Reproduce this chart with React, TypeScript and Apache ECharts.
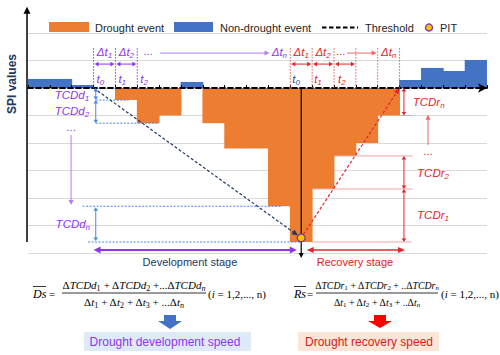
import React, { useEffect, useRef } from "react";
import * as echarts from "echarts";

// ---------------- data ----------------
const periods = ["1", "2", "3", "4", "5", "6", "7", "8", "9", "10", "11", "12", "13", "14", "15", "16", "17", "18", "19", "20", "21"];
const droughtSPI = [null, null, null, null, -0.44, -1.28, -1.0, null, -1.28, -2.2, -2.2, -4.3, -5.6, -3.67, -2.47, -2.0, -1.0, null, null, null, null];
const nonDroughtSPI = [0.33, 0.33, 0.11, null, null, null, null, 0.22, null, null, null, null, null, null, null, null, null, 0.29, 0.73, 0.62, 1.02];
const threshold = 0;
const yMin = -6;
const yMax = 2.9;
const pitPoint = [12.5, -5.45];
const devTimeMarks = [3, 4, 5];
const recTimeMarks = [12, 13, 14, 15, 16, 17];
const devSteps = [0, -0.44, -1.28];
const devLastStep = [-4.3, -5.6];
const recSteps = [-5.6, -3.67, -2.47];
const recLastStep = [-1.0, 0];
const droughtStart = 3;
const droughtEnd = 17;

const SANS = '"Liberation Sans", Arial, sans-serif';
const SERIF = '"Liberation Serif", "Times New Roman", serif';
const C = {
  orange: "#ED7D31",
  blue: "#4472C4",
  purple: "#8E35EF",
  purpleLight: "#B07EF4",
  red: "#E0262E",
  redLight: "#F3A3A3",
  redDot: "#E25A5E",
  navy: "#203864",
  tcdBlue: "#4A86E8",
  grid: "#D9D9D9",
  text: "#262626",
};

type Pt = [number, number];

function seg(a: Pt, b: Pt, stroke: string, lineWidth = 1, lineDash?: number[]) {
  const style: any = { stroke, lineWidth, fill: null };
  if (lineDash) style.lineDash = lineDash;
  return { type: "line", z: 100, silent: true, shape: { x1: a[0], y1: a[1], x2: b[0], y2: b[1] }, style };
}
function tri(tip: Pt, from: Pt, fill: string, len = 5, half = 2.5) {
  const dx = tip[0] - from[0], dy = tip[1] - from[1];
  const L = Math.hypot(dx, dy) || 1;
  const ux = dx / L, uy = dy / L;
  const bx = tip[0] - ux * len, by = tip[1] - uy * len;
  return {
    type: "polygon", z: 101, silent: true,
    shape: { points: [[tip[0], tip[1]], [bx - uy * half, by + ux * half], [bx + uy * half, by - ux * half]] },
    style: { fill },
  };
}
function arrow(a: Pt, b: Pt, color: string, lw: number, o: { start?: boolean; end?: boolean; dash?: number[]; len?: number; half?: number } = {}) {
  const len = o.len ?? 5, half = o.half ?? 2.5;
  const dx = b[0] - a[0], dy = b[1] - a[1];
  const L = Math.hypot(dx, dy) || 1;
  const ux = dx / L, uy = dy / L;
  const end = o.end !== false;
  const a2: Pt = o.start ? [a[0] + ux * len * 0.8, a[1] + uy * len * 0.8] : a;
  const b2: Pt = end ? [b[0] - ux * len * 0.8, b[1] - uy * len * 0.8] : b;
  const out: any[] = [seg(a2, b2, color, lw, o.dash)];
  if (o.start) out.push(tri(a, b, color, len, half));
  if (end) out.push(tri(b, a, color, len, half));
  return out;
}
function rich(color: string, size: number, family: string, subItalic = true) {
  const lh = Math.round(size + 3);
  const ss = Math.round(size * 0.7);
  const base = { fill: color, fontFamily: family, fontSize: size, lineHeight: lh };
  const sub = { fill: color, fontFamily: family, fontSize: ss, lineHeight: ss, padding: [lh - ss, 0, 0, 0] };
  return {
    i: { ...base, fontStyle: "italic" },
    n: { ...base, fontStyle: "normal" },
    s: { ...sub, fontStyle: subItalic ? "italic" : "normal" },
    si: { ...sub, fontStyle: "italic" },
  };
}
function rtext(x: number, y: number, text: string, r: any, align = "center") {
  return { type: "text", x, y, z: 100, silent: true, style: { text, rich: r, align, verticalAlign: "middle" } };
}
function ptext(x: number, y: number, text: string, size: number, fill: string, align = "left", extra: any = {}) {
  return {
    type: "text", x, y, z: 100, silent: true,
    style: { text, fill, fontSize: size, fontFamily: SANS, align, verticalAlign: "middle", ...extra },
  };
}

export default function App() {
  const ref = useRef<HTMLDivElement>(null);
  useEffect(() => {
    const chart = echarts.init(ref.current!, null, { renderer: "svg" });
    const option: any = {
      animation: false,
      grid: { left: 28, right: 13, top: 8.25, bottom: 102, containLabel: false },
      xAxis: [
        {
          type: "category", data: periods, boundaryGap: true, z: 10,
          axisLine: { show: true, onZero: true, symbol: ["none", "arrow"], symbolSize: [7, 9], lineStyle: { color: "#000", width: 1.8, type: [5, 3] } },
          axisTick: { show: true, inside: true, length: 3, lineStyle: { color: "#000", width: 1, type: "solid" } },
          axisLabel: { show: false },
          splitLine: { show: false },
        },
        { type: "value", min: 0, max: 21, show: false, splitLine: { show: false } },
      ],
      yAxis: {
        type: "value", min: yMin, max: yMax, interval: 1,
        axisLine: { show: false }, axisTick: { show: false }, axisLabel: { show: false },
        splitLine: { show: true, showMaxLine: false, lineStyle: { color: C.grid, width: 1.2 } },
      },
      series: [
        { name: "Drought event", type: "bar", data: droughtSPI, barWidth: "104%", barGap: "-100%", silent: true, itemStyle: { color: C.orange } },
        { name: "Non-drought event", type: "bar", data: nonDroughtSPI, barWidth: "104%", barGap: "-100%", silent: true, itemStyle: { color: C.blue } },
      ],
    };
    chart.setOption(option);

    const X = (b: number) => chart.convertToPixel({ xAxisIndex: 1 } as any, b) as unknown as number;
    const Y = (v: number) => chart.convertToPixel({ yAxisIndex: 0 } as any, v) as unknown as number;
    const els: any[] = [];
    const y0 = Y(threshold);

    // y axis with arrow
    const xa = X(0) - 1;
    els.push(seg([xa, Y(-5.6)], [xa, Y(yMax) + 3], "#000", 1.5));
    els.push(tri([xa, Y(yMax) - 1.5], [xa, Y(0)], "#000", 7, 3.5));
    const yl: any = ptext(12, 84, "SPI values", 12, C.navy, "center", { fontWeight: "bold" });
    yl.rotation = Math.PI / 2;
    els.push(yl);

    // legend
    els.push({ type: "rect", z: 100, silent: true, shape: { x: 49, y: 22, width: 40, height: 10 }, style: { fill: C.orange } });
    els.push(ptext(95, 27.5, "Drought event", 11, C.text));
    els.push({ type: "rect", z: 100, silent: true, shape: { x: 174, y: 22, width: 39, height: 10 }, style: { fill: C.blue } });
    els.push(ptext(220, 27.5, "Non-drought event", 11, C.text));
    els.push(seg([322, 27.5], [358, 27.5], "#000", 2, [4.5, 2.5]));
    els.push(ptext(365, 27.5, "Threshold", 11, C.text));
    els.push({ type: "circle", z: 100, silent: true, shape: { cx: 429, cy: 27.5, r: 3.5 }, style: { fill: "#FFC000", stroke: "#7030A0", lineWidth: 1.2 } });
    els.push(ptext(440, 27.5, "PIT", 11, C.text));

    const topY = Y(1.45), dtY = Y(0.87), dtLab = Y(1.3), longY = Y(1.27), tLab = Y(0.32);
    const rP = rich(C.purple, 11.5, SANS);
    const rR = rich(C.red, 11.5, SANS);
    const rNavy = rich("#2F4F8F", 11.5, SANS);

    // development time marks
    devTimeMarks.forEach((b) => els.push(seg([X(b), topY], [X(b), y0], C.purple, 1, [1.5, 1.5])));
    for (let k = 0; k < devTimeMarks.length - 1; k++) {
      els.push(...arrow([X(devTimeMarks[k]) + 1, dtY], [X(devTimeMarks[k + 1]) - 1, dtY], C.purple, 1, { start: true, len: 4, half: 2.3 }));
      els.push(rtext(X(devTimeMarks[k] + 0.5), dtLab, `{i|Δt}{s|${k + 1}}`, rP));
    }
    devTimeMarks.forEach((b, k) => els.push(rtext(X(b) + 3, tLab, `{i|t}{s|${k}}`, rP, "left")));
    els.push(rtext(X(5.5), dtLab - 1, "{n|...}", rP));
    els.push(...arrow([X(6.05), longY], [X(11.05), longY], C.purpleLight, 1, { len: 5, half: 2.5 }));
    els.push(rtext(X(11.15), dtLab, "{i|Δt}{si|n}", rP, "left"));

    // recovery time marks
    recTimeMarks.forEach((b) => els.push(seg([X(b), topY], [X(b), y0], C.redDot, 1, [1.5, 1.5])));
    for (let k = 0; k < 3; k++) {
      els.push(...arrow([X(recTimeMarks[k]) + 1, dtY], [X(recTimeMarks[k + 1]) - 1, dtY], C.red, 1, { start: true, len: 4, half: 2.3 }));
    }
    els.push(rtext(X(12.5), dtLab, "{i|Δt}{s|1}", rR));
    els.push(rtext(X(13.5), dtLab, "{i|Δt}{s|2}", rR));
    els.push(rtext(X(14.3), dtLab - 1, "{n|...}", rR));
    els.push(...arrow([X(14.6), longY], [X(15.95), longY], "#EE6A6A", 1, { len: 5, half: 2.5 }));
    els.push(rtext(X(16.5), dtLab, "{i|Δt}{si|n}", rR));
    els.push(rtext(X(12) + 2, tLab, "{i|t}{s|0}", rNavy, "left"));
    els.push(rtext(X(13) + 2, tLab, "{i|t}{s|1}", rR, "left"));
    els.push(rtext(X(14) + 4, tLab, "{i|t}{s|2}", rR, "left"));

    // TCDd (development) steps
    const xd = X(droughtStart + 0.1);
    for (let k = 0; k < devSteps.length - 1; k++) {
      els.push(...arrow([xd, Y(devSteps[k])], [xd, Y(devSteps[k + 1])], C.tcdBlue, 1, { start: true, len: 3.5, half: 2.3 }));
    }
    els.push(...arrow([xd, Y(devLastStep[0]) + 1], [xd, Y(devLastStep[1]) - 1], C.tcdBlue, 1, { start: true, len: 3.5, half: 2.3 }));
    els.push(seg([xd, Y(devSteps[1])], [X(4.6), Y(devSteps[1])], C.tcdBlue, 1, [2, 1.5]));
    els.push(seg([xd, Y(devSteps[2])], [X(6), Y(devSteps[2])], C.tcdBlue, 1, [2, 1.5]));
    els.push(seg([X(2.5), Y(devLastStep[0])], [X(11.6), Y(devLastStep[0])], C.tcdBlue, 1, [2, 1.5]));
    els.push(seg([X(2.75), Y(devLastStep[1])], [X(12.45), Y(devLastStep[1])], C.tcdBlue, 1, [2, 1.5]));
    els.push(rtext(X(2.8), Y(-0.27), "{i|TCDd}{s|1}", rP, "right"));
    els.push(rtext(X(2.8), Y(-0.83), "{i|TCDd}{s|2}", rP, "right"));
    els.push(rtext(X(2.84), Y(-4.95), "{i|TCDd}{si|n}", rP, "right"));
    els.push(rtext(X(1.97), Y(-1.42), "{n|...}", rP));
    els.push(...arrow([X(1.97), Y(-1.71)], [X(1.97), Y(-4.25)], C.purpleLight, 1, { len: 5, half: 2.5 }));

    // TCDr (recovery) steps
    const xr = X(droughtEnd + 0.2);
    els.push(...arrow([xr, Y(recLastStep[1])], [xr, Y(recLastStep[0])], C.red, 1, { start: true, len: 3.5, half: 2.3 }));
    els.push(...arrow([xr, Y(recSteps[2])], [xr, Y(recSteps[1])], C.red, 1, { start: true, len: 3.5, half: 2.3 }));
    els.push(...arrow([xr, Y(recSteps[1])], [xr, Y(recSteps[0])], C.red, 1, { start: true, len: 3.5, half: 2.3 }));
    els.push(seg([X(17), Y(recLastStep[0])], [X(17.6), Y(recLastStep[0])], C.redLight, 1));
    els.push(seg([X(14), Y(recSteps[2])], [X(17.6), Y(recSteps[2])], C.redLight, 1));
    els.push(seg([X(13), Y(recSteps[1])], [X(17.6), Y(recSteps[1])], C.redLight, 1));
    els.push(seg([X(13), Y(recSteps[0])], [X(17.55), Y(recSteps[0])], C.redLight, 1));
    els.push(...arrow([X(18.3), Y(-2.07)], [X(18.3), Y(-0.97)], "#EE6A6A", 1, { len: 5, half: 2.5 }));
    els.push(rtext(X(18.3), Y(-2.3), "{n|...}", rR));
    els.push(rtext(X(17.6), Y(-0.5), "{i|TCDr}{si|n}", rR, "left"));
    els.push(rtext(X(17.8), Y(-3.08), "{i|TCDr}{s|2}", rR, "left"));
    els.push(rtext(X(17.8), Y(-4.6), "{i|TCDr}{s|1}", rR, "left"));

    // development / recovery trend lines and PIT
    const pit: Pt = [X(pitPoint[0]), Y(pitPoint[1])];
    const ds: Pt = [X(droughtStart), y0];
    const de: Pt = [X(droughtEnd), y0];
    {
      const dx = pit[0] - ds[0], dy = pit[1] - ds[1], L = Math.hypot(dx, dy);
      els.push(...arrow(ds, [pit[0] - (dx / L) * 4, pit[1] - (dy / L) * 4], C.navy, 1.2, { dash: [3, 2], len: 6, half: 2.8 }));
      const ex = de[0] - pit[0], ey = de[1] - pit[1], M = Math.hypot(ex, ey);
      els.push(...arrow([pit[0] + (ex / M) * 4, pit[1] + (ey / M) * 4], de, C.red, 1.2, { dash: [3, 2], len: 6, half: 2.8 }));
    }
    els.push(...arrow([pit[0], y0], [pit[0], Y(-6.18)], "#000", 1.2, { len: 5, half: 2.5 }));
    els.push({ type: "circle", z: 103, silent: true, shape: { cx: pit[0], cy: pit[1], r: 4 }, style: { fill: "#FFC000", stroke: "#7030A0", lineWidth: 1.2 } });

    // stage arrows
    const yS = Y(-5.89);
    els.push(...arrow([X(droughtStart), yS], [X(12.3), yS], C.purple, 2, { start: true, len: 7, half: 3.5 }));
    els.push(...arrow([X(12.75), yS], [X(17.25), yS], C.red, 1.5, { start: true, len: 7, half: 3 }));
    els.push(ptext(X(7.41), Y(-6.33), "Development stage", 11, C.navy, "center"));
    els.push(ptext(X(14.96), Y(-6.33), "Recovery stage", 11, "#E02020", "center"));

    // formulas
    const rF = rich("#000", 11, SERIF, false);
    const rF2 = rich("#000", 9.8, SERIF, false);
    els.push(rtext(33, 294, "{i|Ds}", rich("#000", 12, SERIF), "left"));
    els.push(seg([33, 286.5], [46, 286.5], "#000", 0.8));
    els.push(rtext(49, 293.5, "{n|=}", rF, "left"));
    els.push(rtext(134, 285, "{n|Δ}{i|TCDd}{s|1}{n| + Δ}{i|TCDd}{s|2}{n| +...Δ}{i|TCDd}{si|n}", rF));
    els.push(seg([62, 293], [206, 293], "#000", 0.8));
    els.push(rtext(134, 302, "{n|Δ}{i|t}{s|1}{n| + Δ}{i|t}{s|2}{n| + Δ}{i|t}{s|3}{n| + ...Δ}{i|t}{si|n}", rF));
    els.push(rtext(208, 294, "{n|(}{i|i}{n| = 1,2,..., n)}", rF, "left"));

    els.push(rtext(294, 294, "{i|Rs}", rich("#000", 12, SERIF), "left"));
    els.push(seg([294, 286.5], [306, 286.5], "#000", 0.8));
    els.push(rtext(307, 293.5, "{n|=}", rF, "left"));
    els.push(rtext(377, 285, "{n|Δ}{i|TCDr}{s|1}{n| + Δ}{i|TCDr}{s|2}{n| + ..Δ}{i|TCDr}{si|n}", rF2));
    els.push(seg([316, 293], [438, 293], "#000", 0.8));
    els.push(rtext(377, 302, "{n|Δ}{i|t}{s|1}{n| + Δ}{i|t}{s|2}{n| + Δ}{i|t}{s|3}{n| + ..Δ}{i|t}{si|n}", rF2));
    els.push(rtext(441, 294, "{n|(}{i|i}{n| = 1,2,..., n)}", rF, "left"));

    // block arrows and result boxes
    els.push({ type: "polygon", z: 100, silent: true, shape: { points: [[164, 315], [176, 315], [176, 321], [182, 321], [170, 329], [158, 321], [164, 321]] }, style: { fill: C.blue } });
    els.push({ type: "polygon", z: 100, silent: true, shape: { points: [[374, 315], [386, 315], [386, 321], [392, 321], [380, 328], [368, 321], [374, 321]] }, style: { fill: "#FF0000" } });
    els.push({ type: "rect", z: 99, silent: true, shape: { x: 84, y: 332, width: 167, height: 19 }, style: { fill: "#DEEBF7" } });
    els.push(ptext(165, 341.5, "Drought development speed", 12, C.purple, "center"));
    els.push({ type: "rect", z: 99, silent: true, shape: { x: 298, y: 332, width: 141, height: 19 }, style: { fill: "#FBE5D6" } });
    els.push(ptext(369, 341.5, "Drought recovery speed", 12, "#D21E1E", "center"));

    chart.setOption({ graphic: { elements: els } });
    return () => chart.dispose();
  }, []);
  return <div ref={ref} style={{ position: "fixed", left: 0, top: 0, width: 500, height: 355, background: "#fff" }} />;
}
